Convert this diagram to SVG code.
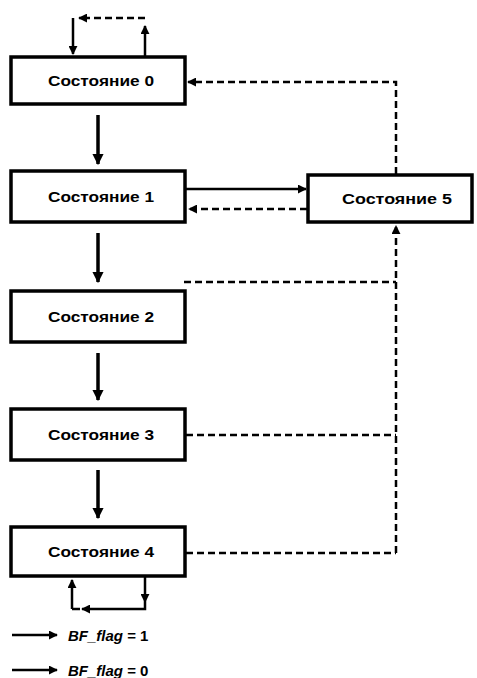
<svg xmlns="http://www.w3.org/2000/svg" width="477" height="678" viewBox="0 0 477 678">
<style>
.box{fill:#fff;stroke:#000;stroke-width:3.5}
.lbl{font-family:"Liberation Sans",Arial,sans-serif;font-weight:bold;font-size:14px;fill:#000;text-anchor:middle}
.sol{fill:none;stroke:#000;stroke-width:2.5}
.thick{fill:none;stroke:#000;stroke-width:3.5}
.dash{fill:none;stroke:#000;stroke-width:2.5;stroke-dasharray:7 4}
.leg{font-family:"Liberation Sans",Arial,sans-serif;font-weight:bold;font-size:15px;fill:#000}
</style>
<defs>
<marker id="ah" viewBox="0 0 10 10" refX="9" refY="5" markerWidth="3.2" markerHeight="3.2" orient="auto" markerUnits="strokeWidth">
<path d="M0,0 L10,5 L0,10 z" fill="#000"/>
</marker>
<marker id="ahs" viewBox="0 0 10 10" refX="9" refY="5" markerWidth="3.6" markerHeight="3.6" orient="auto" markerUnits="strokeWidth">
<path d="M0,0 L10,5 L0,10 z" fill="#000"/>
</marker>
</defs>
<rect width="477" height="678" fill="#fff"/>
<g id="connectors">
<path class="sol" d="M145,56 V26" marker-end="url(#ahs)"/>
<path class="dash" d="M145,18 H80"/>
<path class="sol" d="M84,18 H79" marker-end="url(#ahs)"/>
<path class="sol" d="M73,18 V54" marker-end="url(#ahs)"/>
<path class="thick" d="M98,115 V164" marker-end="url(#ah)"/>
<path class="thick" d="M98,233 V282" marker-end="url(#ah)"/>
<path class="thick" d="M98,353 V400" marker-end="url(#ah)"/>
<path class="thick" d="M98,470 V518" marker-end="url(#ah)"/>
<path class="sol" d="M186,189 H306" marker-end="url(#ahs)"/>
<path class="dash" d="M307,209 H189" marker-end="url(#ahs)"/>
<path class="dash" d="M396,174 V82 H188" marker-end="url(#ahs)"/>
<path class="dash" d="M396,553 V226" marker-end="url(#ahs)"/>
<path class="dash" d="M184,282 H396"/>
<path class="dash" d="M186,435 H396"/>
<path class="dash" d="M186,553 H396"/>
<path class="sol" d="M145,576 V602" marker-end="url(#ahs)"/>
<path class="sol" d="M145,602 V609 H82" marker-end="url(#ahs)"/>
<path class="sol" d="M72,609 V580" marker-end="url(#ahs)"/>
<path class="sol" d="M80,609 H72"/>
</g>
<g id="state0"><rect class="box" x="11" y="57" width="174" height="47"/><text class="lbl" x="101" y="86" textLength="106" lengthAdjust="spacingAndGlyphs">Состояние 0</text></g>
<g id="state1"><rect class="box" x="11" y="171" width="174" height="51"/><text class="lbl" x="101" y="202" textLength="106" lengthAdjust="spacingAndGlyphs">Состояние 1</text></g>
<g id="state2"><rect class="box" x="11" y="291" width="174" height="51"/><text class="lbl" x="101" y="322" textLength="106" lengthAdjust="spacingAndGlyphs">Состояние 2</text></g>
<g id="state3"><rect class="box" x="11" y="409" width="174" height="51"/><text class="lbl" x="101" y="440" textLength="106" lengthAdjust="spacingAndGlyphs">Состояние 3</text></g>
<g id="state4"><rect class="box" x="11" y="527" width="174" height="49"/><text class="lbl" x="101" y="557" textLength="106" lengthAdjust="spacingAndGlyphs">Состояние 4</text></g>
<g id="state5"><rect class="box" x="308" y="175" width="164" height="47"/><text class="lbl" x="397" y="204" textLength="110" lengthAdjust="spacingAndGlyphs">Состояние 5</text></g>
<g id="legend">
<path class="sol" d="M12,635 H57" marker-end="url(#ahs)"/>
<text class="leg" x="68" y="641"><tspan font-style="italic">BF_flag</tspan> = 1</text>
<path class="sol" d="M12,670 H57" marker-end="url(#ahs)"/>
<text class="leg" x="68" y="676"><tspan font-style="italic">BF_flag</tspan> = 0</text>
</g>
</svg>
